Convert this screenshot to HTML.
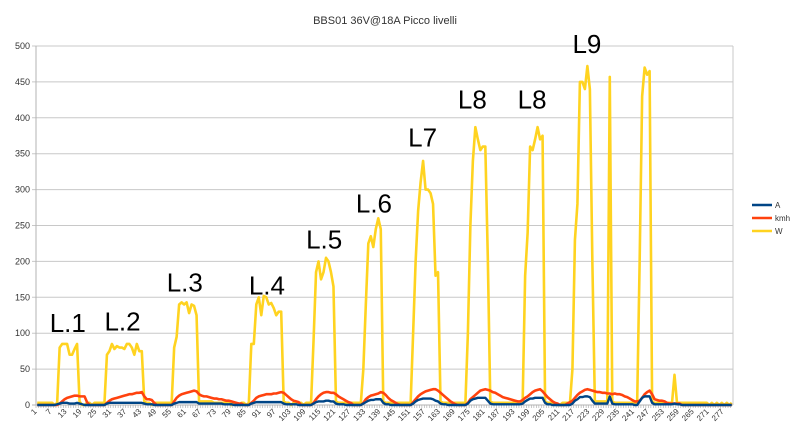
<!DOCTYPE html>
<html><head><meta charset="utf-8"><style>
body{margin:0;background:#fff;}
svg{display:block;font-family:"Liberation Sans","DejaVu Sans",sans-serif;}
</style></head><body>
<svg id="chart" width="800" height="438" viewBox="0 0 800 438" xmlns="http://www.w3.org/2000/svg">
<rect width="800" height="438" fill="#fff"/>
<text x="385" y="24" font-size="11" text-anchor="middle" fill="#333">BBS01 36V@18A Picco livelli</text>
<g id="grid"></g><g id="axes"></g><g id="series"></g><g id="labels"></g>
<g>
<g><line x1="752" y1="205" x2="772" y2="205" stroke="#004586" stroke-width="2.5"/><text x="775" y="208" font-size="8" fill="#333">A</text></g>
<g><line x1="752" y1="218" x2="772" y2="218" stroke="#ff420e" stroke-width="2.5"/><text x="775" y="221" font-size="8" fill="#333">kmh</text></g>
<g><line x1="752" y1="231" x2="772" y2="231" stroke="#ffd320" stroke-width="2.5"/><text x="775" y="234" font-size="8" fill="#333">W</text></g>
</g>
</svg>
<script>
const yTicks=[0,50,100,150,200,250,300,350,400,450,500];
const seriesW=[3,3,3,3,3,3,3,0,3,80,85,85,85,70,70,78,85,5,0,0,
3,3,0,3,3,3,3,3,70,75,85,78,82,80,80,78,85,85,80,70,
85,75,75,5,3,3,0,3,3,3,3,3,3,3,3,80,95,140,143,140,
143,128,140,138,125,5,5,5,5,5,5,3,3,3,3,3,3,5,0,3,
3,0,3,3,0,3,85,85,140,150,125,152,150,140,142,135,125,130,130,5,
3,3,0,3,3,3,3,0,3,3,3,90,185,200,175,185,205,200,185,165,
5,3,3,3,3,3,3,3,3,3,3,50,140,225,235,220,245,260,245,5,
3,3,3,3,3,3,3,3,3,3,3,100,200,270,310,340,300,300,295,280,
180,185,5,3,3,3,3,3,3,3,3,3,3,100,250,340,387,370,355,360,
360,205,5,3,3,3,3,3,3,3,3,3,3,3,3,5,180,240,360,355,
370,387,370,375,5,3,3,3,3,0,0,3,3,3,3,50,230,280,450,450,
440,472,440,200,5,5,5,5,5,5,457,5,3,3,3,3,3,3,3,3,
3,3,200,430,470,460,465,5,3,3,3,3,3,3,3,3,42,3,3,3,
3,3,3,3,3,3,3,3,3,3,0,3,0,3,0,3,0,3,0,3];
const seriesKmh=[0,0,0,0,0,0,0,0,0,2,5,8,10,11,12,13,13,12,12,12,
4,0,0,0,0,0,0,0,3,6,8,9,10,11,12,13,14,15,15,16,
17,17,18,12,8,8,7,3,0,0,0,0,0,0,0,5,10,13,15,16,
17,18,19,20,19,15,13,12,12,11,10,9,9,8,8,7,6,6,5,4,
3,2,2,0,0,0,3,6,10,12,13,14,15,15,15,16,16,17,18,17,
14,11,8,6,5,4,0,0,0,0,0,3,8,12,15,17,18,18,17,17,
15,12,10,8,6,4,3,0,0,0,0,3,8,11,13,14,15,16,18,17,
14,10,7,5,3,1,0,0,0,0,0,4,8,12,15,17,19,20,21,22,
22,20,17,14,11,8,5,3,1,0,0,0,0,3,8,11,14,17,20,21,
22,21,20,18,17,15,13,11,10,9,8,7,6,5,5,7,10,12,15,18,
20,21,22,19,15,11,8,5,3,2,0,0,0,2,4,6,10,14,17,19,
21,22,21,20,19,18,18,17,17,16,16,15,16,15,15,14,12,11,9,7,
5,5,6,10,15,18,20,15,8,7,6,6,5,3,2,2,2,2,2,0,
0,0,0,0,0,0,0,0,0,0,0,0,0,0,0,0,0,0,0,0];
const seriesA=[0,0,0,0,0,0,0,0,1,2,3,3,3,2,2,2,3,2,1,0,
0,0,0,0,0,0,0,0,2,3,3,3,3,3,3,3,3,3,3,3,
3,3,3,2,1,1,1,0,0,0,0,0,0,0,0,2,3,4,4,4,
4,4,4,4,4,2,2,2,2,2,2,2,2,2,2,1,1,1,1,0,
0,0,0,0,0,0,2,3,4,4,4,4,4,4,4,4,4,4,4,2,
1,1,1,1,1,0,0,0,0,0,0,2,4,5,5,5,6,6,5,5,
2,1,1,1,0,0,0,0,0,0,0,2,4,6,7,7,8,8,8,3,
1,1,0,0,0,0,0,0,0,0,0,2,5,7,8,9,9,9,9,8,
6,5,2,1,1,0,0,0,0,0,0,0,0,2,6,8,9,10,10,10,
10,6,2,1,1,1,1,1,1,1,1,1,1,1,1,2,5,7,9,9,
10,10,10,10,3,1,1,0,0,0,0,0,0,0,0,2,6,8,11,11,
12,12,11,6,2,2,2,2,2,2,12,2,1,1,1,1,1,1,1,1,
0,0,5,10,12,12,12,3,1,1,1,1,1,1,1,1,2,1,1,0,
0,0,0,0,0,0,0,0,0,0,0,0,0,0,0,0,0,0,0,0];
const categories=seriesW.map((_,i)=>String(i+1));
const annotations=["L.1","L.2","L.3","L.4","L.5","L.6","L7","L8","L8","L9"];
const annotationCats=[6,28,53,86,109,129,150,170,194,216];
const annotationVals=[102,104,158,154,218,268,360,413,413,490];

const X0=36,X1=733,Y0=405,Y1=46,VMAX=500;
const n=categories.length,step=(X1-X0)/n;
const xs=i=>X0+(i+0.5)*step;
const ys=v=>Y0-(v/VMAX)*(Y0-Y1);
const NS="http://www.w3.org/2000/svg";
function mk(tag,attrs,parent){const e=document.createElementNS(NS,tag);for(const k in attrs)e.setAttribute(k,attrs[k]);parent.appendChild(e);return e;}
const grid=document.getElementById('grid'),axes=document.getElementById('axes'),ser=document.getElementById('series'),lab=document.getElementById('labels');
yTicks.forEach(t=>{
  const l=mk('line',{x1:X0-4,x2:X1,y1:ys(t),y2:ys(t),stroke:t===0?'#b3b3b3':'#c8c8c8','stroke-width':1},grid);
  
  
  const tx=mk('text',{x:X0-6,y:ys(t)+3,'font-size':9,'text-anchor':'end',fill:'#333'},axes);
  tx.textContent=t;
  
  
});
const ya=mk('line',{x1:X0,x2:X0,y1:Y1,y2:Y0,stroke:'#b3b3b3'},axes);


const xa=mk('line',{x1:X1,x2:X1,y1:Y1,y2:Y0,stroke:'#c8c8c8'},axes);


categories.forEach((c,i)=>{
  const x=X0+i*step;
  const tk=mk('line',{x1:x,x2:x,y1:Y0,y2:Y0+3,stroke:'#b3b3b3','stroke-width':0.7},axes);
  
  
  if(i%6===0){
    const cx=xs(i),cy=Y0+7;
    const t=mk('text',{x:cx,y:cy,'font-size':8,'text-anchor':'end',fill:'#333',transform:`rotate(-45 ${cx} ${cy})`},axes);
    t.textContent=c;
    
    
  }
});
function drawLine(arr,color,name,w){
  const d=arr.map((v,i)=>(i?'L':'M')+xs(i).toFixed(2)+' '+ys(v).toFixed(2)).join(' ');
  const p=mk('path',{d:d,fill:'none',stroke:color,'stroke-width':w,'stroke-linejoin':'round'},ser);
  
  
}
drawLine(seriesW,'#ffd320','series-w-line',2.6);
drawLine(seriesKmh,'#ff420e','series-kmh-line',2.6);
drawLine(seriesA,'#004586','series-a-line',2.4);
annotations.forEach((a,k)=>{
  const t=mk('text',{x:xs(annotationCats[k]-1),y:ys(annotationVals[k]),'font-size':26,fill:'#000'},lab);
  t.textContent=a;
  
  
});
</script>
</body></html>
